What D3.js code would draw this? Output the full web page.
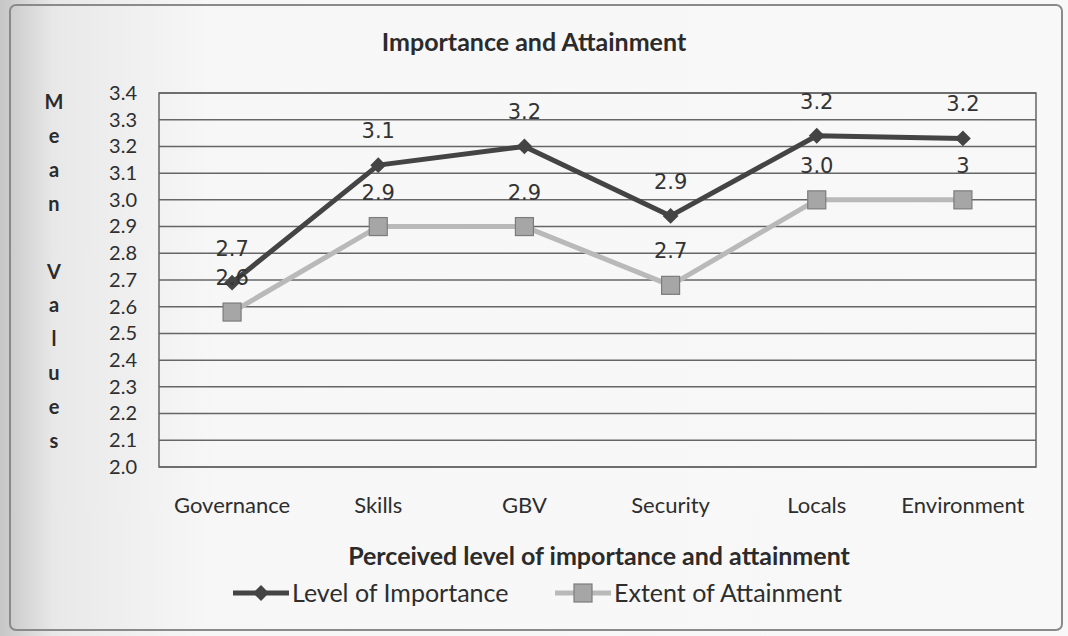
<!DOCTYPE html>
<html>
<head>
<meta charset="utf-8">
<script src="https://cdn.jsdelivr.net/npm/d3@7"></script>
<style>
  html, body { margin: 0; padding: 0; background: #f6f6f6; }
  svg { display: block; }
</style>
</head>
<body>
<svg id="chart" width="1068" height="636"></svg>
<script>
// Mean scores per area
const categories = ["Governance", "Skills", "GBV", "Security", "Locals", "Environment"];
const importance = [2.69, 3.13, 3.20, 2.94, 3.24, 3.23];
const attainment = [2.58, 2.90, 2.90, 2.68, 3.00, 3.00];
const attainmentLabels = ["2.6", "2.9", "2.9", "2.7", "3.0", "3"];
const yTicks = [2.0, 2.1, 2.2, 2.3, 2.4, 2.5, 2.6, 2.7, 2.8, 2.9, 3.0, 3.1, 3.2, 3.3, 3.4];
const seriesNames = ["Level of Importance", "Extent of Attainment"];
const yTitle = ["M", "e", "a", "n", "", "V", "a", "l", "u", "e", "s"];

const svg = d3.select("#chart");
const W = 1068, H = 636;
const plot = { left: 159, right: 1036, top: 93, bottom: 467 };
const font = "Lato, sans-serif";

// page backdrop with a soft shadow along the left edge
const defs = svg.append("defs");
const grad = defs.append("linearGradient").attr("id", "edge").attr("x1", 0).attr("x2", 1);
grad.append("stop").attr("offset", 0).attr("stop-color", "#c6c6c6");
grad.append("stop").attr("offset", 0.05).attr("stop-color", "#e8e8e8");
grad.append("stop").attr("offset", 0.2).attr("stop-color", "#f7f7f7");
grad.append("stop").attr("offset", 1).attr("stop-color", "#f8f8f8");
svg.append("rect").attr("width", W).attr("height", H).attr("fill", "url(#edge)");

// chart frame
svg.append("rect")
  .attr("x", 10).attr("y", 5).attr("width", 1052).attr("height", 625)
  .attr("rx", 6)
  .attr("fill", "none").attr("stroke", "#8a8a8a").attr("stroke-width", 2);

const x = d3.scaleBand().domain(categories).range([plot.left, plot.right]).padding(0);
const y = d3.scaleLinear().domain([2.0, 3.4]).range([plot.bottom, plot.top]);
const cx = d => x(d) + x.bandwidth() / 2;

// horizontal gridlines
svg.append("g")
  .selectAll("line")
  .data(yTicks)
  .join("line")
  .attr("x1", plot.left).attr("x2", plot.right)
  .attr("y1", d => y(d)).attr("y2", d => y(d))
  .attr("stroke", "#666").attr("stroke-width", 1.5);

// plot border
svg.append("rect")
  .attr("x", plot.left).attr("y", plot.top)
  .attr("width", plot.right - plot.left).attr("height", plot.bottom - plot.top)
  .attr("fill", "none").attr("stroke", "#666").attr("stroke-width", 1.5);

// y axis
const yAxis = d3.axisLeft(y).tickValues(yTicks).tickFormat(d3.format(".1f")).tickSize(0).tickPadding(22);
const gy = svg.append("g").attr("transform", `translate(${plot.left},0)`).call(yAxis);
gy.select(".domain").remove();
gy.selectAll("text")
  .attr("font-family", font).attr("font-size", 20).attr("fill", "#2e2e2e");

// x axis
const xAxis = d3.axisBottom(x).tickSize(0).tickPadding(30);
const gx = svg.append("g").attr("transform", `translate(0,${plot.bottom})`).call(xAxis);
gx.select(".domain").remove();
gx.selectAll("text")
  .attr("font-family", font).attr("font-size", 22).attr("fill", "#2e2e2e");

// title
svg.append("text")
  .attr("x", 534).attr("y", 51)
  .attr("text-anchor", "middle")
  .attr("font-family", font).attr("font-weight", "bold").attr("font-size", 25)
  .attr("fill", "#2b2b2b")
  .text("Importance and Attainment");

// stacked y axis title
svg.append("g").selectAll("text")
  .data(yTitle)
  .join("text")
  .attr("x", 54).attr("y", (d, i) => 109 + i * 33.9)
  .attr("text-anchor", "middle")
  .attr("font-family", font).attr("font-weight", "bold").attr("font-size", 20)
  .attr("fill", "#2b2b2b")
  .text(d => d);

// x axis title
svg.append("text")
  .attr("x", 599).attr("y", 565)
  .attr("text-anchor", "middle")
  .attr("font-family", font).attr("font-weight", "bold").attr("font-size", 25)
  .attr("fill", "#2b2b2b")
  .text("Perceived level of importance and attainment");

const line = d3.line().x(d => cx(d.cat)).y(d => y(d.v));
const impData = categories.map((c, i) => ({ cat: c, v: importance[i] }));
const attData = categories.map((c, i) => ({ cat: c, v: attainment[i] }));

const impColor = "#444", attColor = "#b9b9b9";
const diamond = d3.symbol().type(d3.symbolDiamond2).size(160);

// Extent of Attainment series
svg.append("path").datum(attData)
  .attr("d", line).attr("fill", "none")
  .attr("stroke", attColor).attr("stroke-width", 5).attr("stroke-linejoin", "round");
svg.append("g").selectAll("rect")
  .data(attData)
  .join("rect")
  .attr("x", d => cx(d.cat) - 9).attr("y", d => y(d.v) - 9)
  .attr("width", 18).attr("height", 18)
  .attr("fill", "#a6a6a6").attr("stroke", "#7c7c7c").attr("stroke-width", 1.2);

// Level of Importance series
svg.append("path").datum(impData)
  .attr("d", line).attr("fill", "none")
  .attr("stroke", impColor).attr("stroke-width", 5).attr("stroke-linejoin", "round");
svg.append("g").selectAll("path")
  .data(impData)
  .join("path")
  .attr("transform", d => `translate(${cx(d.cat)},${y(d.v)})`)
  .attr("d", diamond)
  .attr("fill", impColor);

// data labels
const labelFont = "'DejaVu Sans', sans-serif";
svg.append("g").selectAll("text")
  .data(impData)
  .join("text")
  .attr("x", d => cx(d.cat)).attr("y", d => y(d.v) - 27)
  .attr("text-anchor", "middle")
  .attr("font-family", labelFont).attr("font-size", 21).attr("fill", "#333")
  .text(d => d3.format(".1f")(d.v));
svg.append("g").selectAll("text")
  .data(attData)
  .join("text")
  .attr("x", d => cx(d.cat)).attr("y", d => y(d.v) - 27)
  .attr("text-anchor", "middle")
  .attr("font-family", labelFont).attr("font-size", 21).attr("fill", "#333")
  .text((d, i) => attainmentLabels[i]);

// legend
const legend = svg.append("g").attr("transform", "translate(0,593)");
const legendItems = [
  { name: seriesNames[0], x0: 233, color: impColor, shape: "diamond" },
  { name: seriesNames[1], x0: 555, color: attColor, shape: "square" }
];
legendItems.forEach(it => {
  const g = legend.append("g").attr("transform", `translate(${it.x0},0)`);
  g.append("line").attr("x1", 0).attr("x2", 56).attr("y1", 0).attr("y2", 0)
    .attr("stroke", it.color).attr("stroke-width", 5);
  if (it.shape === "diamond") {
    g.append("path").attr("transform", "translate(28,0)").attr("d", diamond).attr("fill", it.color);
  } else {
    g.append("rect").attr("x", 19).attr("y", -9).attr("width", 18).attr("height", 18)
      .attr("fill", "#a6a6a6").attr("stroke", "#7c7c7c").attr("stroke-width", 1.2);
  }
  g.append("text").attr("x", 59).attr("y", 9)
    .attr("font-family", font).attr("font-size", 25).attr("fill", "#2e2e2e")
    .text(it.name);
});
</script>
</body>
</html>
